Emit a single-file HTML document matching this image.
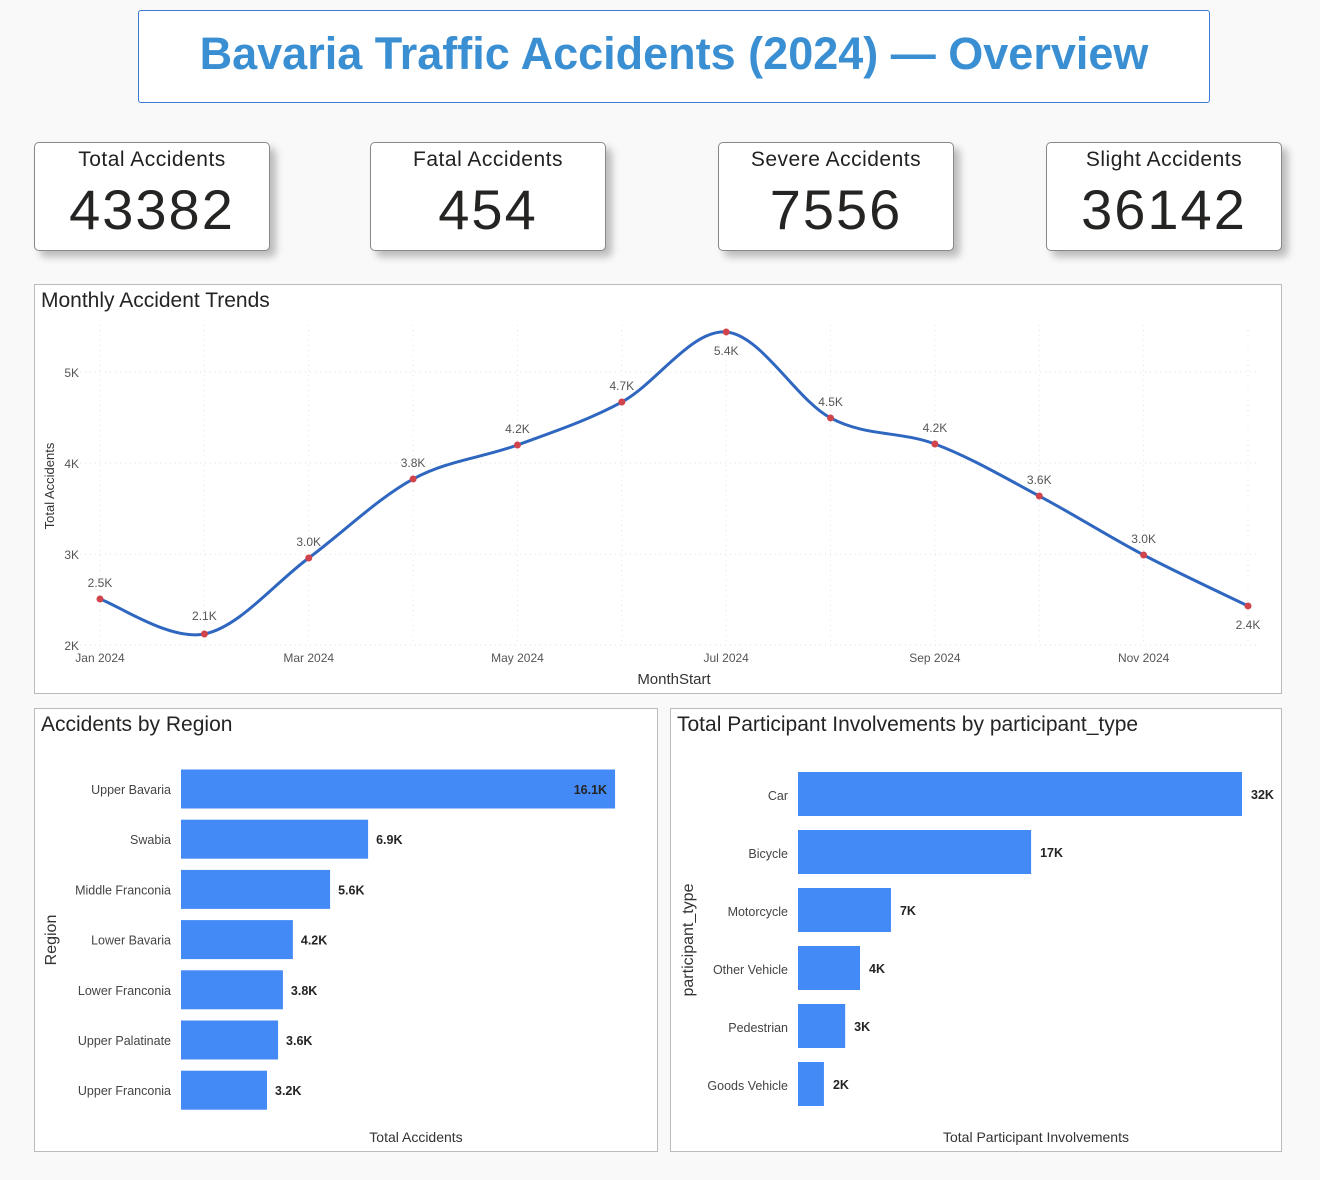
<!DOCTYPE html>
<html><head><meta charset="utf-8"><style>
body{margin:0;background:#f9f9f9;width:1320px;height:1180px;overflow:hidden;font-family:"Liberation Sans","DejaVu Sans",sans-serif}
.card{position:absolute;background:#fff;border:1px solid #888;border-radius:5px;box-shadow:6px 6px 8px rgba(0,0,0,.25);width:234px;height:107px;text-align:center}
.card .t{font-size:21px;color:#222;margin-top:5px;letter-spacing:.5px}
.card .v{font-size:56px;color:#252423;margin-top:10px;letter-spacing:2px;line-height:56px}
.panel{position:absolute;background:#fff;border:1px solid #bbb}
</style></head><body>
<div style="position:absolute;left:138px;top:10px;width:1070px;height:91px;border:1px solid #3a7bd5;border-radius:3px;background:#fff;text-align:center;line-height:86px;font-size:45px;font-weight:bold;color:#3a8fd3">Bavaria Traffic Accidents (2024) — Overview</div>

<div class="card" style="left:34px;top:142px"><div class="t">Total Accidents</div><div class="v">43382</div></div>
<div class="card" style="left:370px;top:142px"><div class="t">Fatal Accidents</div><div class="v">454</div></div>
<div class="card" style="left:718px;top:142px"><div class="t">Severe Accidents</div><div class="v">7556</div></div>
<div class="card" style="left:1046px;top:142px"><div class="t">Slight Accidents</div><div class="v">36142</div></div>

<div class="panel" style="left:34px;top:284px;width:1246px;height:408px"></div>
<div class="panel" style="left:34px;top:708px;width:622px;height:442px"></div>
<div class="panel" style="left:670px;top:708px;width:610px;height:442px"></div>

<svg id="svg" width="1320" height="1180" style="position:absolute;left:0;top:0" font-family="Liberation Sans, DejaVu Sans, sans-serif">
<text x="41" y="307" font-size="21" fill="#252423">Monthly Accident Trends</text>
<text x="41" y="731" font-size="21" fill="#252423">Accidents by Region</text>
<text x="677" y="731" font-size="21" fill="#252423">Total Participant Involvements by participant_type</text>
<g id="line"></g><g id="reg"></g><g id="par"></g>
</svg>
<script>
const months=["Jan 2024","Feb 2024","Mar 2024","Apr 2024","May 2024","Jun 2024","Jul 2024","Aug 2024","Sep 2024","Oct 2024","Nov 2024","Dec 2024"];
const monthVals=[2505,2121,2956,3824,4198,4670,5440,4495,4209,3637,2989,2429];
const monthLabels=["2.5K","2.1K","3.0K","3.8K","4.2K","4.7K","5.4K","4.5K","4.2K","3.6K","3.0K","2.4K"];
const yTicks=[2000,3000,4000,5000];
const yTickLabels=["2K","3K","4K","5K"];
const regions=["Upper Bavaria","Swabia","Middle Franconia","Lower Bavaria","Lower Franconia","Upper Palatinate","Upper Franconia"];
const regionVals=[16100,6940,5530,4150,3780,3600,3190];
const regionLabels=["16.1K","6.9K","5.6K","4.2K","3.8K","3.6K","3.2K"];
const ptypes=["Car","Bicycle","Motorcycle","Other Vehicle","Pedestrian","Goods Vehicle"];
const ptypeVals=[32000,16800,6700,4470,3400,1870];
const ptypeLabels=["32K","17K","7K","4K","3K","2K"];

const NS="http://www.w3.org/2000/svg";
function mk(p,tag,a,txt){const e=document.createElementNS(NS,tag);for(const k in a)e.setAttribute(k,a[k]);if(txt!=null)e.textContent=txt;p.appendChild(e);return e;}
const L=document.getElementById('line');
const xs=i=>100+i*(1248-100)/11, ys=v=>645-(v-2000)*0.091;
yTicks.forEach((t,i)=>{
 const g=mk(L,'line',{x1:80,x2:1258,y1:ys(t),y2:ys(t),stroke:'#ddd','stroke-dasharray':'1 4'});
 
 const tl=mk(L,'text',{x:79,y:ys(t)+5,'text-anchor':'end','font-size':12,fill:'#555'},yTickLabels[i]);
 
});
months.forEach((m,i)=>{
 const g=mk(L,'line',{x1:xs(i),x2:xs(i),y1:325,y2:645,stroke:'#e4e4e4','stroke-dasharray':'1 4'});
 
 if(i%2==0){const t=mk(L,'text',{x:xs(i),y:662,'text-anchor':'middle','font-size':12,fill:'#555'},m);
 }
});
let yl=mk(L,'text',{x:0,y:0,'font-size':13,fill:'#333',transform:'translate(54,486) rotate(-90)','text-anchor':'middle'},'Total Accidents');

let xl=mk(L,'text',{x:674,y:684,'font-size':15,fill:'#333','text-anchor':'middle'},'MonthStart');

const P=monthVals.map((v,i)=>[xs(i),ys(v)]);
let d='M'+P[0][0]+','+P[0][1];
for(let i=0;i<P.length-1;i++){const p0=P[Math.max(0,i-1)],p1=P[i],p2=P[i+1],p3=P[Math.min(P.length-1,i+2)];
 d+=` C${p1[0]+(p2[0]-p0[0])/6},${p1[1]+(p2[1]-p0[1])/6} ${p2[0]-(p3[0]-p1[0])/6},${p2[1]-(p3[1]-p1[1])/6} ${p2[0]},${p2[1]}`;}
const path=mk(L,'path',{d:d,fill:'none',stroke:'#2f67c0','stroke-width':3});

P.forEach((p,i)=>{
 const c=mk(L,'circle',{cx:p[0],cy:p[1],r:3.5,fill:'#d0454c'});
 
 const below=(i==1||i==6||i==11);
 const t=mk(L,'text',{x:p[0],y:below?p[1]+23:p[1]-12,'text-anchor':'middle','font-size':12,fill:'#555'},monthLabels[i]);
 if(i==1)t.setAttribute('y',p[1]-14);
 
});
const R=document.getElementById('reg');
regions.forEach((r,i)=>{
 const cy=789+i*50.2,w=regionVals[i]*0.02696;
 const b=mk(R,'rect',{x:181,y:cy-19.5,width:w,height:39,fill:'#448af7'});
 
 const l=mk(R,'text',{x:171,y:cy+5,'text-anchor':'end','font-size':12.5,fill:'#444'},r);
 
 const inside=i==0;
 const v=mk(R,'text',{x:inside?181+w-8:181+w+8,y:cy+5,'text-anchor':inside?'end':'start','font-size':12.5,'font-weight':'bold',fill:'#252423'},regionLabels[i]);
 
});
let ra=mk(R,'text',{x:416,y:1142,'text-anchor':'middle','font-size':14,fill:'#333'},'Total Accidents');

let rb=mk(R,'text',{x:0,y:0,'font-size':16,fill:'#333',transform:'translate(56,940) rotate(-90)','text-anchor':'middle'},'Region');

const Q=document.getElementById('par');
ptypes.forEach((r,i)=>{
 const cy=794+i*58,w=ptypeVals[i]*0.013875;
 const b=mk(Q,'rect',{x:798,y:cy-22,width:w,height:44,fill:'#448af7'});
 
 const l=mk(Q,'text',{x:788,y:cy+6,'text-anchor':'end','font-size':12.5,fill:'#444'},r);
 
 const v=mk(Q,'text',{x:798+w+9,y:cy+5,'font-size':12.5,'font-weight':'bold',fill:'#252423'},ptypeLabels[i]);
 
});
let pa=mk(Q,'text',{x:1036,y:1142,'text-anchor':'middle','font-size':14,fill:'#333'},'Total Participant Involvements');

let pb=mk(Q,'text',{x:0,y:0,'font-size':16,fill:'#333',transform:'translate(693,940) rotate(-90)','text-anchor':'middle'},'participant_type');

</script>
</body></html>
